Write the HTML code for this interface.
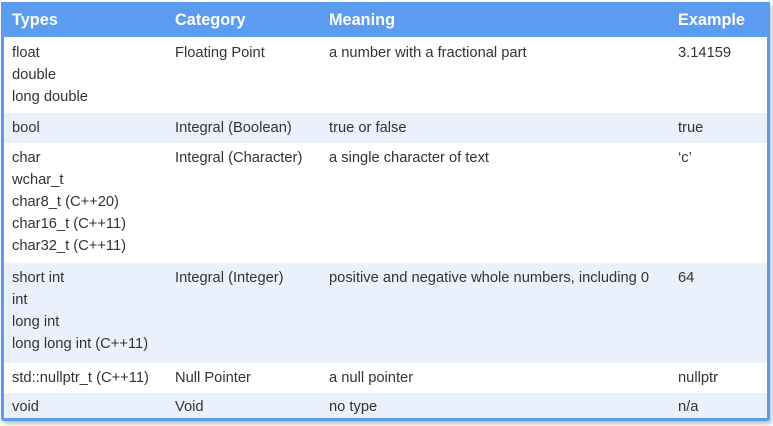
<!DOCTYPE html>
<html><head><style>
body{margin:0;width:773px;height:426px;background:#fff;font-family:"Liberation Sans",sans-serif;position:relative;overflow:hidden}
.frame{position:absolute;left:1px;top:2px;width:763px;height:416px;border:3px solid #5b9cf0;border-top:0;border-radius:0 0 3px 3px;box-shadow:2px 3px 4px rgba(0,0,0,0.25)}
.hdr{position:absolute;left:1px;top:2px;width:769px;height:35px;background:#5b9cf0}
.row{position:absolute;left:4px;width:763px}
.alt{background:#eaf1fd}
.t{position:absolute;font-size:14.7px;line-height:22px;color:#333}
.h{position:absolute;top:10px;font-size:16.3px;font-weight:bold;color:#fff;line-height:20px}
</style></head><body>
<div class="hdr"></div>
<div class="row" style="top:37px;height:76px"></div>
<div class="row alt" style="top:113px;height:30px"></div>
<div class="row" style="top:143px;height:120px"></div>
<div class="row alt" style="top:263px;height:100px"></div>
<div class="row" style="top:363px;height:30px"></div>
<div class="row alt" style="top:393px;height:25px"></div>
<div class="frame"></div>
<div class="h" style="left:12px">Types</div>
<div class="h" style="left:175px">Category</div>
<div class="h" style="left:329px">Meaning</div>
<div class="h" style="left:678px">Example</div>

<div class="t" style="left:12px;top:42px">float<br>double<br>long double</div>
<div class="t" style="left:175px;top:42px">Floating Point</div>
<div class="t" style="left:329px;top:42px">a number with a fractional part</div>
<div class="t" style="left:678px;top:42px">3.14159</div>

<div class="t" style="left:12px;top:117px">bool</div>
<div class="t" style="left:175px;top:117px">Integral (Boolean)</div>
<div class="t" style="left:329px;top:117px">true or false</div>
<div class="t" style="left:678px;top:117px">true</div>

<div class="t" style="left:12px;top:147px">char<br>wchar_t<br>char8_t (C++20)<br>char16_t (C++11)<br>char32_t (C++11)</div>
<div class="t" style="left:175px;top:147px">Integral (Character)</div>
<div class="t" style="left:329px;top:147px">a single character of text</div>
<div class="t" style="left:678px;top:147px">‘c’</div>

<div class="t" style="left:12px;top:267px">short int<br>int<br>long int<br>long long int (C++11)</div>
<div class="t" style="left:175px;top:267px">Integral (Integer)</div>
<div class="t" style="left:329px;top:267px">positive and negative whole numbers, including 0</div>
<div class="t" style="left:678px;top:267px">64</div>

<div class="t" style="left:12px;top:367px">std::nullptr_t (C++11)</div>
<div class="t" style="left:175px;top:367px">Null Pointer</div>
<div class="t" style="left:329px;top:367px">a null pointer</div>
<div class="t" style="left:678px;top:367px">nullptr</div>

<div class="t" style="left:12px;top:396px">void</div>
<div class="t" style="left:175px;top:396px">Void</div>
<div class="t" style="left:329px;top:396px">no type</div>
<div class="t" style="left:678px;top:396px">n/a</div>
</body></html>
